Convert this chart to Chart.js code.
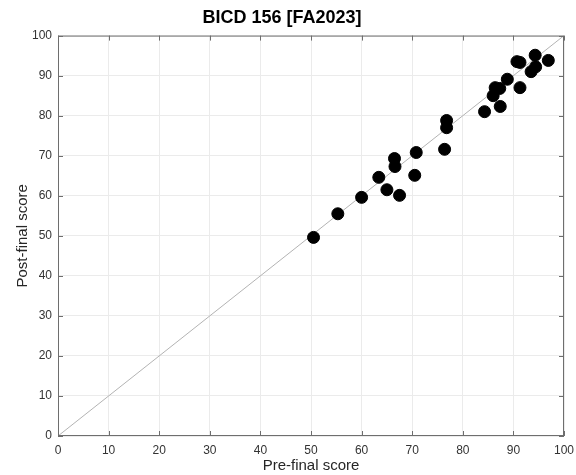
<!DOCTYPE html>
<html>
<head>
<meta charset="utf-8">
<script src="https://cdn.jsdelivr.net/npm/chart.js@4"></script>
<style>
  html, body { margin: 0; padding: 0; background: #fff; }
  #wrap { width: 576px; height: 475px; }
</style>
</head>
<body>
<div id="wrap"><canvas id="chart" width="576" height="475"></canvas></div>
<script>
// scores
const preFinal = [50.5, 55.3, 60.0, 63.4, 65.0, 66.5, 66.6, 67.5, 70.5, 70.8, 76.4, 76.8, 76.8,
  84.3, 86.0, 86.4, 87.4, 87.3, 88.8, 90.7, 91.3, 91.3, 93.5, 94.4, 94.3, 96.9];
const postFinal = [49.6, 55.5, 59.6, 64.6, 61.5, 69.3, 67.3, 60.1, 65.1, 70.8, 71.6, 78.8, 77.0,
  81.0, 85.0, 87.0, 82.3, 86.8, 89.1, 93.5, 93.3, 87.0, 91.0, 92.2, 95.1, 93.8];
const diagX = [0, 100];
const diagY = [0, 100];
const ticks = [0, 10, 20, 30, 40, 50, 60, 70, 80, 90, 100];

const points = preFinal.map((x, i) => ({ x, y: postFinal[i] }));
const diag = diagX.map((x, i) => ({ x, y: diagY[i] }));

// MATLAB style box with inward ticks
const boxPlugin = {
  id: 'box',
  afterDatasetsDraw(chart) {
    const { ctx, chartArea: a, scales } = chart;
    ctx.save();
    ctx.strokeStyle = '#6e6e6e';
    ctx.lineWidth = 1;
    ctx.strokeRect(a.left + 0.5, a.top + 0.5, a.right - a.left - 1, a.bottom - a.top - 1);
    ctx.beginPath();
    ticks.forEach(t => {
      const px = Math.round(scales.x.getPixelForValue(t)) + 0.5;
      ctx.moveTo(px, a.bottom); ctx.lineTo(px, a.bottom - 5);
      ctx.moveTo(px, a.top); ctx.lineTo(px, a.top + 5);
      const py = Math.round(scales.y.getPixelForValue(t)) + 0.5;
      ctx.moveTo(a.left, py); ctx.lineTo(a.left + 5, py);
      ctx.moveTo(a.right, py); ctx.lineTo(a.right - 5, py);
    });
    ctx.stroke();
    ctx.restore();
  }
};

new Chart(document.getElementById('chart'), {
  type: 'scatter',
  data: {
    datasets: [
      {
        type: 'line',
        data: diag,
        borderColor: '#b3b3b3',
        borderWidth: 1,
        pointRadius: 0,
        fill: false,
        order: 2
      },
      {
        data: points,
        backgroundColor: '#000',
        borderColor: '#000',
        pointRadius: 6,
        order: 1
      }
    ]
  },
  options: {
    responsive: false,
    animation: false,
    layout: { padding: { top: 0, right: 12, left: 0, bottom: 0 } },
    plugins: {
      legend: { display: false },
      tooltip: { enabled: false },
      title: {
        display: true,
        text: 'BICD 156 [FA2023]',
        color: '#000',
        font: { family: 'Liberation Sans', size: 18, weight: 'bold' },
        padding: { top: 7, bottom: 7 }
      }
    },
    scales: {
      x: {
        type: 'linear',
        min: 0, max: 100,
        afterBuildTicks: s => { s.ticks = ticks.map(v => ({ value: v })); },
        afterFit: s => { s.height = 39; s.paddingLeft = 0; s.paddingRight = 0; },
        grid: { color: '#ebebeb', drawTicks: false },
        border: { display: false },
        ticks: { color: '#333', padding: 7, font: { family: 'Liberation Sans', size: 12 } },
        title: { display: true, text: 'Pre-final score', color: '#262626', padding: { top: 2, bottom: 0 },
          font: { family: 'Liberation Sans', size: 15 } }
      },
      y: {
        type: 'linear',
        min: 0, max: 100,
        afterBuildTicks: s => { s.ticks = ticks.map(v => ({ value: v })); },
        afterFit: s => { s.width = 58; },
        grid: { color: '#ebebeb', drawTicks: false },
        border: { display: false },
        ticks: { color: '#333', padding: 6, font: { family: 'Liberation Sans', size: 12 } },
        title: { display: true, text: 'Post-final score', color: '#262626', padding: { top: 14, bottom: 0 },
          font: { family: 'Liberation Sans', size: 15 } }
      }
    }
  },
  plugins: [boxPlugin]
});
</script>
</body>
</html>
